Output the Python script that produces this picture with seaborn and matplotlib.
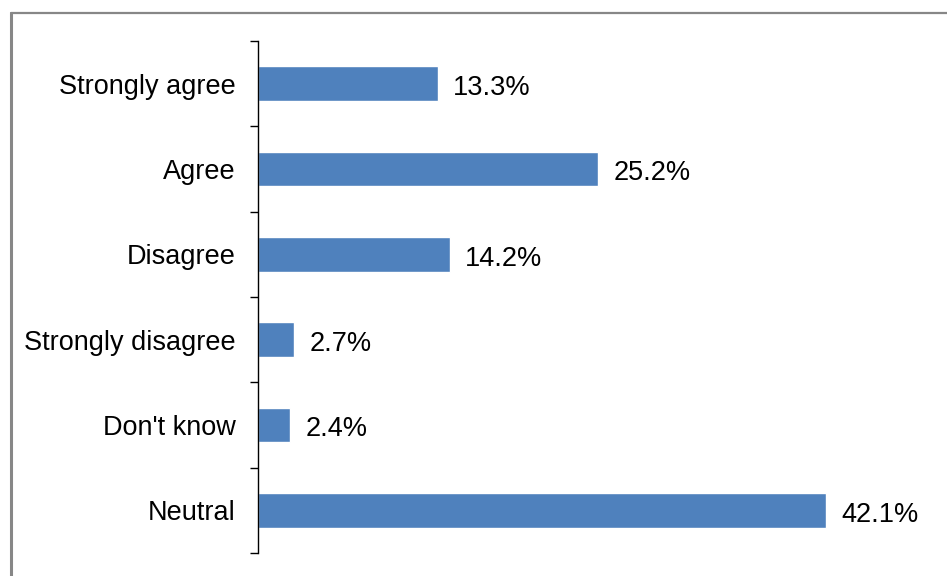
import matplotlib
matplotlib.use("Agg")
import matplotlib.pyplot as plt
from matplotlib.lines import Line2D
import seaborn as sns
import pandas as pd
import numpy as np

categories = ["Strongly agree", "Agree", "Disagree", "Strongly disagree", "Don't know", "Neutral"]
percentages = [13.3, 25.2, 14.2, 2.7, 2.4, 42.1]

sns.set_theme(style="white")
plt.rcParams["font.family"] = ["Liberation Sans", "DejaVu Sans"]

W, H = 947, 576
fig = plt.figure(figsize=(W / 100, H / 100), dpi=100)
fig.patch.set_facecolor("white")

left, right, top, bottom = 258, 933, 41, 553
ax = fig.add_axes([left / W, 1 - bottom / H, (right - left) / W, (bottom - top) / H])

df = pd.DataFrame({"category": categories, "pct": percentages})
sns.barplot(data=df, x="pct", y="category", orient="h", color="#4F81BD",
            saturation=1, width=0.41, ax=ax)

ax.set_xlim(0, 50)
ax.set_ylim(len(categories) - 0.5, -0.5)
ax.set_xlabel("")
ax.set_ylabel("")
ax.set_xticks([])

for s in ["top", "right", "bottom"]:
    ax.spines[s].set_visible(False)
ax.spines["left"].set_color("black")
ax.spines["left"].set_linewidth(1.0)

# category labels without tick marks; tick marks at category boundaries
ax.tick_params(axis="y", which="major", length=0, pad=16, labelsize=19.5, labelcolor="black")
for lbl in ax.get_yticklabels():
    lbl.set_verticalalignment("center_baseline")
ax.set_yticks(np.arange(-0.5, len(categories), 1.0), minor=True)
ax.tick_params(axis="y", which="minor", length=6, width=1, color="black", direction="out", left=True)

for i, v in enumerate(percentages):
    ax.annotate(f"{v:.1f}%", xy=(v, i), xytext=(11, -1), textcoords="offset points",
                va="center_baseline", ha="left", fontsize=19.5, color="black")

# chart frame edges
fig.add_artist(Line2D([10.5 / W, 10.5 / W], [0, 1 - 12.5 / H], transform=fig.transFigure,
                      color="#878787", linewidth=2.2))
fig.add_artist(Line2D([10.5 / W, 1], [1 - 12.5 / H, 1 - 12.5 / H], transform=fig.transFigure,
                      color="#878787", linewidth=1.6))

fig.savefig("out.png", dpi=100, facecolor="white")
